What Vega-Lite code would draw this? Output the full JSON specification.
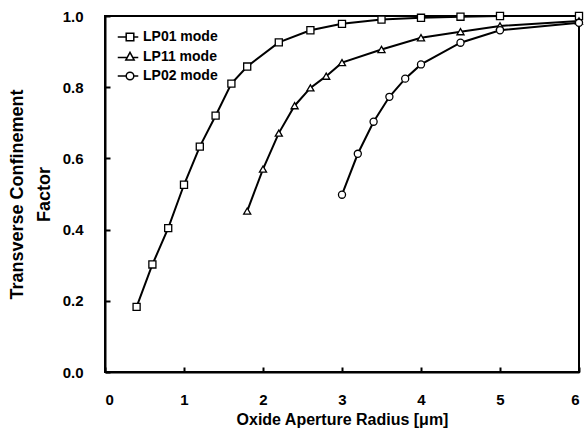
{
  "$schema": "https://vega.github.io/schema/vega-lite/v6.json",
  "width": 474,
  "height": 356,
  "autosize": {"type": "none"},
  "padding": {"left": 105, "top": 16, "right": 5, "bottom": 62},
  "background": "white",
  "config": {
    "font": "Liberation Sans",
    "view": {"stroke": "black", "strokeWidth": 2},
    "axis": {"grid": false, "domainColor": "black", "domainWidth": 2, "tickColor": "black", "tickWidth": 2, "labelColor": "black", "titleColor": "black", "labelFont": "Liberation Sans", "titleFont": "Liberation Sans", "labelFontWeight": "bold", "titleFontWeight": "bold"}
  },
  "data": {
    "values": [
      {"series": "LP01 mode", "r": 0.4, "g": 0.183},
      {"series": "LP01 mode", "r": 0.6, "g": 0.302},
      {"series": "LP01 mode", "r": 0.8, "g": 0.404},
      {"series": "LP01 mode", "r": 1.0, "g": 0.526},
      {"series": "LP01 mode", "r": 1.2, "g": 0.633},
      {"series": "LP01 mode", "r": 1.4, "g": 0.72},
      {"series": "LP01 mode", "r": 1.6, "g": 0.81},
      {"series": "LP01 mode", "r": 1.8, "g": 0.858},
      {"series": "LP01 mode", "r": 2.2, "g": 0.926},
      {"series": "LP01 mode", "r": 2.6, "g": 0.96},
      {"series": "LP01 mode", "r": 3.0, "g": 0.978},
      {"series": "LP01 mode", "r": 3.5, "g": 0.99},
      {"series": "LP01 mode", "r": 4.0, "g": 0.995},
      {"series": "LP01 mode", "r": 4.5, "g": 0.998},
      {"series": "LP01 mode", "r": 5.0, "g": 1.0},
      {"series": "LP01 mode", "r": 6.0, "g": 1.0},
      {"series": "LP11 mode", "r": 1.8, "g": 0.452},
      {"series": "LP11 mode", "r": 2.0, "g": 0.57},
      {"series": "LP11 mode", "r": 2.2, "g": 0.671},
      {"series": "LP11 mode", "r": 2.4, "g": 0.748},
      {"series": "LP11 mode", "r": 2.6, "g": 0.798},
      {"series": "LP11 mode", "r": 2.8, "g": 0.831},
      {"series": "LP11 mode", "r": 3.0, "g": 0.869},
      {"series": "LP11 mode", "r": 3.5, "g": 0.906},
      {"series": "LP11 mode", "r": 4.0, "g": 0.939},
      {"series": "LP11 mode", "r": 4.5, "g": 0.956},
      {"series": "LP11 mode", "r": 5.0, "g": 0.972},
      {"series": "LP11 mode", "r": 6.0, "g": 0.986},
      {"series": "LP02 mode", "r": 3.0, "g": 0.498},
      {"series": "LP02 mode", "r": 3.2, "g": 0.613},
      {"series": "LP02 mode", "r": 3.4, "g": 0.703},
      {"series": "LP02 mode", "r": 3.6, "g": 0.773},
      {"series": "LP02 mode", "r": 3.8, "g": 0.824},
      {"series": "LP02 mode", "r": 4.0, "g": 0.864},
      {"series": "LP02 mode", "r": 4.5, "g": 0.925},
      {"series": "LP02 mode", "r": 5.0, "g": 0.96},
      {"series": "LP02 mode", "r": 6.0, "g": 0.981}
    ]
  },
  "encoding": {
    "x": {"field": "r", "type": "quantitative", "scale": {"domain": [0, 6], "nice": false},
      "axis": {"title": "Oxide Aperture Radius [μm]", "values": [0, 1, 2, 3, 4, 5, 6], "format": "d", "tickSize": -5, "labelPadding": 25, "labelFontSize": 15, "titleFontSize": 16, "titlePadding": 4}},
    "y": {"field": "g", "type": "quantitative", "scale": {"domain": [0, 1], "nice": false},
      "axis": {"title": ["Transverse Confinement", "Factor"], "values": [0, 0.2, 0.4, 0.6, 0.8, 1.0], "format": ".1f", "tickSize": -5, "labelPadding": 27, "labelFontSize": 15, "titleFontSize": 18, "titlePadding": 9, "titleLineHeight": 27}}
  },
  "resolve": {"scale": {"shape": "independent"}, "legend": {"shape": "independent"}},
  "layer": [
    {
      "mark": {"type": "line", "color": "black", "strokeWidth": 2},
      "encoding": {"detail": {"field": "series"}}
    },
    {
      "mark": {"type": "point", "filled": true, "fill": "white", "stroke": "black", "strokeWidth": 1.3, "size": 50, "opacity": 1},
      "encoding": {
        "shape": {"field": "series", "type": "nominal",
          "scale": {"domain": ["LP01 mode", "LP11 mode", "LP02 mode"], "range": ["square", "triangle-up", "circle"]},
          "legend": null}
      }
    },
    {
      "mark": {"type": "point", "filled": false, "color": "black", "size": 0, "opacity": 1},
      "encoding": {
        "shape": {"field": "series", "type": "nominal",
          "scale": {"domain": ["LP01 mode", "LP11 mode", "LP02 mode"],
            "range": ["M-2,0H-0.62M0.62,0H1.35M-0.62,-0.62H0.62V0.62H-0.62Z", "M-2,0.1H-0.55M0.55,0.1H1.35M0,-0.75L0.68,0.5H-0.68Z", "M-2,0H-0.62M0.62,0H1.35M0.62,0A0.62,0.62,0,1,1,-0.62,0A0.62,0.62,0,1,1,0.62,0Z"]},
          "legend": {
            "title": null, "orient": "none", "legendX": 18, "legendY": 14,
            "labelFontSize": 14, "labelFontWeight": "bold", "labelColor": "black", "labelFont": "Liberation Sans",
            "symbolSize": 150, "symbolFillColor": "white", "symbolStrokeColor": "black", "symbolStrokeWidth": 1.5, "symbolOpacity": 1,
            "rowPadding": 5, "labelOffset": 6
          }}
      }
    }
  ]
}
